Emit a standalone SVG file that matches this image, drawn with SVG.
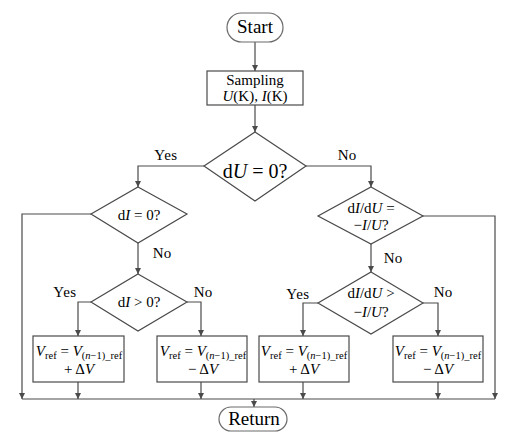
<svg xmlns="http://www.w3.org/2000/svg" width="509" height="432" viewBox="0 0 509 432">
<defs>
<marker id="ah" viewBox="0 0 10 10" refX="10" refY="5" markerWidth="6" markerHeight="6" markerUnits="userSpaceOnUse" orient="auto">
<path d="M0,0 L10,5 L0,10 z" fill="#4a4a4a"/>
</marker>
<style>
.shape{fill:#fff;stroke:#4a4a4a;stroke-width:1.2}
.term{fill:#fff;stroke:#6a6a6a;stroke-width:1.2}
.ln{fill:none;stroke:#4a4a4a;stroke-width:1.2}
.arr{fill:none;stroke:#4a4a4a;stroke-width:1.2;marker-end:url(#ah)}
text{font-family:"Liberation Serif","Times New Roman",serif;fill:#000;text-anchor:middle}
.t15{font-size:15px}
.t18{font-size:19px}
.t20{font-size:20px}
.sub{font-size:10.5px}
.i{font-style:italic}
</style>
</defs>
<rect width="509" height="432" fill="#fff"/>
<g id="connectors">
<path class="arr" d="M255,42 V71"/>
<path class="arr" d="M255,105 V132"/>
<path class="arr" d="M204,166 H138 V187"/>
<path class="arr" d="M306,166 H371 V187"/>
<path class="arr" d="M91,214 H22 V399"/>
<path class="arr" d="M138,243 V274"/>
<path class="arr" d="M91,302 H78 V336"/>
<path class="arr" d="M187,302 H201 V336"/>
<path class="arr" d="M423,216 H495 V399"/>
<path class="arr" d="M371,244 V272"/>
<path class="arr" d="M318,303 H303 V336"/>
<path class="arr" d="M423,303 H438 V336"/>
<path class="arr" d="M78,382 V399"/>
<path class="arr" d="M201,382 V399"/>
<path class="arr" d="M303,382 V399"/>
<path class="arr" d="M438,382 V399"/>
<path class="ln" d="M22,399 H495"/>
<path class="arr" d="M254,399 V407"/>
</g>
<g id="labels">
<text class="t15" x="166" y="160" letter-spacing="0.5">Yes</text>
<text class="t15" x="347" y="160">No</text>
<text class="t15" x="162" y="258">No</text>
<text class="t15" x="65" y="297" letter-spacing="0.5">Yes</text>
<text class="t15" x="203" y="297">No</text>
<text class="t15" x="393" y="263">No</text>
<text class="t15" x="298" y="299" letter-spacing="0.5">Yes</text>
<text class="t15" x="443" y="297">No</text>
</g>
<g id="start">
<rect class="term" x="227" y="13" width="56" height="29" rx="14.5"/>
<text class="t18" x="255" y="33">Start</text>
</g>
<g id="sampling">
<rect class="shape" x="207" y="71" width="96" height="34"/>
<text class="t15" x="255" y="85">Sampling</text>
<text class="t15" x="255" y="101"><tspan class="i">U</tspan>(K), <tspan class="i">I</tspan>(K)</text>
</g>
<g id="dU0">
<polygon class="shape" points="255,132 306,166 255,201 204,166"/>
<text class="t20" x="255" y="178">d<tspan class="i">U</tspan> = 0?</text>
</g>
<g id="dI0">
<polygon class="shape" points="138,187 187,214 138,243 91,214"/>
<text class="t15" x="139" y="220">d<tspan class="i">I</tspan> = 0?</text>
</g>
<g id="dIgt0">
<polygon class="shape" points="138,274 187,302 138,331 91,302"/>
<text class="t15" x="139" y="307">d<tspan class="i">I</tspan> &gt; 0?</text>
</g>
<g id="dIdUeq">
<polygon class="shape" points="371,187 423,216 371,244 318,216"/>
<text class="t15" x="371" y="213">d<tspan class="i">I</tspan>/d<tspan class="i">U</tspan> =</text>
<text class="t15" x="371" y="230">−<tspan class="i">I</tspan>/<tspan class="i">U</tspan>?</text>
</g>
<g id="dIdUgt">
<polygon class="shape" points="371,272 423,303 371,334 318,303"/>
<text class="t15" x="371" y="298">d<tspan class="i">I</tspan>/d<tspan class="i">U</tspan> &gt;</text>
<text class="t15" x="371" y="317">−<tspan class="i">I</tspan>/<tspan class="i">U</tspan>?</text>
</g>
<g id="box1">
<rect class="shape" x="33" y="336" width="91" height="46"/>
<text class="t15" x="79" y="356"><tspan class="i">V</tspan><tspan class="sub" dy="2.5">ref</tspan><tspan dy="-2.5"> = </tspan><tspan class="i">V</tspan><tspan class="sub" dy="2.5">(<tspan class="i">n</tspan>−1)_ref</tspan></text>
<text class="t15" x="79" y="374">+ Δ<tspan class="i">V</tspan></text>
</g>
<g id="box2">
<rect class="shape" x="157" y="336" width="90" height="46"/>
<text class="t15" x="203" y="356"><tspan class="i">V</tspan><tspan class="sub" dy="2.5">ref</tspan><tspan dy="-2.5"> = </tspan><tspan class="i">V</tspan><tspan class="sub" dy="2.5">(<tspan class="i">n</tspan>−1)_ref</tspan></text>
<text class="t15" x="203" y="374">− Δ<tspan class="i">V</tspan></text>
</g>
<g id="box3">
<rect class="shape" x="259" y="336" width="90" height="46"/>
<text class="t15" x="304" y="356"><tspan class="i">V</tspan><tspan class="sub" dy="2.5">ref</tspan><tspan dy="-2.5"> = </tspan><tspan class="i">V</tspan><tspan class="sub" dy="2.5">(<tspan class="i">n</tspan>−1)_ref</tspan></text>
<text class="t15" x="304" y="374">+ Δ<tspan class="i">V</tspan></text>
</g>
<g id="box4">
<rect class="shape" x="393" y="336" width="90" height="46"/>
<text class="t15" x="438" y="356"><tspan class="i">V</tspan><tspan class="sub" dy="2.5">ref</tspan><tspan dy="-2.5"> = </tspan><tspan class="i">V</tspan><tspan class="sub" dy="2.5">(<tspan class="i">n</tspan>−1)_ref</tspan></text>
<text class="t15" x="438" y="374">− Δ<tspan class="i">V</tspan></text>
</g>
<g id="return">
<rect class="term" x="219" y="407" width="68" height="24" rx="12"/>
<text class="t18" x="254" y="425">Return</text>
</g>
</svg>
